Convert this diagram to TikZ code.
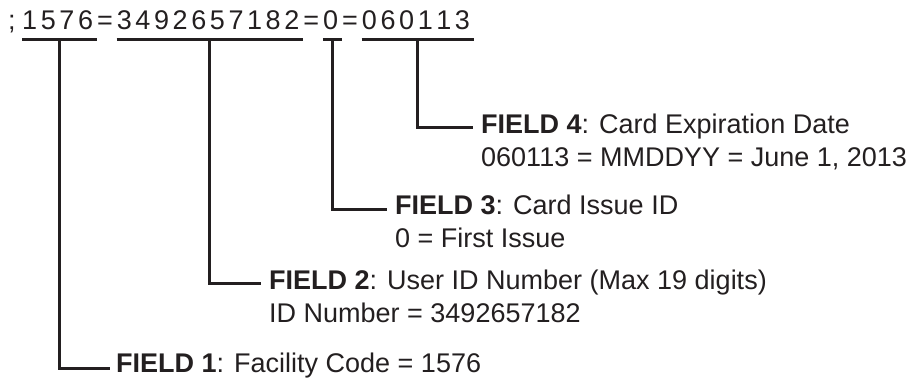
\documentclass[tikz,border=0pt]{standalone}
\usepackage{fontspec}
\setmainfont{Liberation Sans}
\definecolor{ink}{HTML}{231F20}
\newcommand\trk{\kern3.6pt}
\begin{document}
\begin{tikzpicture}[x=1pt,y=-1pt,
  grp/.style={inner sep=0pt, anchor=base west, text depth=9.5pt,
    font=\fontsize{27}{32}\selectfont, text=ink},
  lbl/.style={inner sep=0pt, anchor=base west,
    font=\fontsize{27}{32}\selectfont, text=ink},
  uline/.style={draw=ink, line width=3.5pt},
  conn/.style={draw=ink, line width=3pt}]
\useasboundingbox (0,0) rectangle (914,379);

% encoded string
\node[grp] (semi) at (8,30) {;\trk};
\node[grp] (g1) at (22,30) {1\trk5\trk7\trk6\trk};
\node[grp] (e1) at (g1.base east) {=\trk};
\node[grp] (g2) at (e1.base east) {3\trk4\trk9\trk2\trk6\trk5\trk7\trk1\trk8\trk2\trk};
\node[grp] (e2) at (g2.base east) {=\trk};
\node[grp] (g3) at (e2.base east) {0\trk};
\node[grp] (e3) at (g3.base east) {=\trk};
\node[grp] (g4) at (e3.base east) {0\trk6\trk0\trk1\trk1\trk3\trk};

% underlines
\foreach \g in {g1,g2,g3,g4}
  \draw[uline] (\g.south west) -- (\g.south east);

% labels
\node[lbl] (f4)  at (481,134) {\textbf{FIELD 4}: Card Expiration Date};
\node[lbl] (f4b) at (481,167) {060113 = MMDDYY = June 1, 2013};
\node[lbl] (f3)  at (395,215) {\textbf{FIELD 3}: Card Issue ID};
\node[lbl] (f3b) at (395,248) {0 = First Issue};
\node[lbl] (f2)  at (269,290) {\textbf{FIELD 2}: User ID Number (Max 19 digits)};
\node[lbl] (f2b) at (269,323) {ID Number = 3492657182};
\node[lbl] (f1)  at (116,373) {\textbf{FIELD 1}: Facility Code = 1576};

% connectors
\draw[conn] (g4.south) |- ([xshift=-8pt,yshift=6pt]f4.base west);
\draw[conn] (g3.south) |- ([xshift=-8pt,yshift=5pt]f3.base west);
\draw[conn] (g2.south) |- ([xshift=-8pt,yshift=6pt]f2.base west);
\draw[conn] (g1.south) |- ([xshift=-6pt,yshift=4pt]f1.base west);
\end{tikzpicture}
\end{document}
